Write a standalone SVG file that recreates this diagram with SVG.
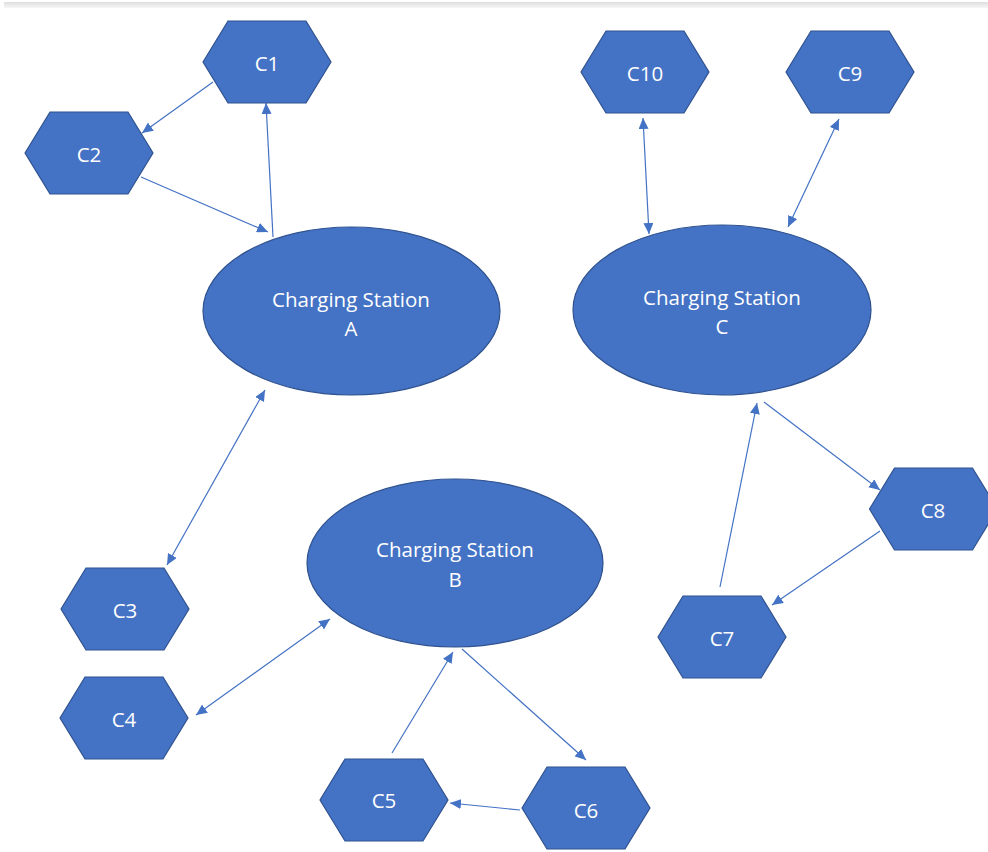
<svg xmlns="http://www.w3.org/2000/svg" xmlns:xlink="http://www.w3.org/1999/xlink" width="988" height="852" viewBox="0 0 988 852">
  <defs>
    <linearGradient id="bar" x1="0" y1="0" x2="0" y2="1">
      <stop offset="0" stop-color="#dedede"/>
      <stop offset="1" stop-color="#f6f6f6"/>
    </linearGradient>
    <polygon id="hex" points="-64,0 -39,-41 39,-41 64,0 39,41 -39,41"/>
    <marker id="arr" markerUnits="userSpaceOnUse" markerWidth="12" markerHeight="10" refX="11" refY="5" orient="auto-start-reverse" viewBox="0 0 12 10">
      <path d="M0,0 L11,5 L0,10 z" fill="#4472C4"/>
    </marker>
    <style>
      .shape { fill: #4472C4; stroke: #2F528F; stroke-width: 1.2; }
      .lbl { font-family: "Open Sans", "Noto Sans", "Liberation Sans", sans-serif; font-size: 20.5px; fill: #ffffff; text-anchor: middle; }
      .conn line { stroke: #4472C4; stroke-width: 1.2; fill: none; }
      .one { marker-end: url(#arr); }
      .two { marker-start: url(#arr); marker-end: url(#arr); }
    </style>
  </defs>
  <rect x="0" y="0" width="988" height="852" fill="#ffffff"/>
  <rect x="4" y="2" width="984" height="6" fill="url(#bar)"/>

  <g id="connectors" class="conn">
    <line class="one" x1="213" y1="82" x2="142" y2="133"/>
    <line class="one" x1="141" y1="177" x2="268" y2="232"/>
    <line class="one" x1="273" y1="237" x2="266" y2="103"/>
    <line class="two" x1="643" y1="118" x2="649" y2="234"/>
    <line class="two" x1="839" y1="119" x2="788" y2="227"/>
    <line class="one" x1="720" y1="587" x2="757" y2="403"/>
    <line class="one" x1="764" y1="402" x2="880" y2="490"/>
    <line class="one" x1="880" y1="531" x2="772" y2="605"/>
    <line class="two" x1="265" y1="390" x2="167" y2="565"/>
    <line class="two" x1="330" y1="619" x2="196" y2="715"/>
    <line class="one" x1="392" y1="753" x2="453" y2="652"/>
    <line class="one" x1="462" y1="649" x2="586" y2="760"/>
    <line class="one" x1="520" y1="810" x2="450" y2="803"/>
  </g>

  <g id="station-a">
    <ellipse class="shape" cx="351.5" cy="311" rx="148.5" ry="84"/>
    <text class="lbl" x="351" y="307">Charging Station</text>
    <text class="lbl" x="351" y="336">A</text>
  </g>
  <g id="station-b">
    <ellipse class="shape" cx="455" cy="563" rx="148" ry="84"/>
    <text class="lbl" x="455" y="557">Charging Station</text>
    <text class="lbl" x="455" y="587">B</text>
  </g>
  <g id="station-c">
    <ellipse class="shape" cx="722" cy="310" rx="149" ry="85"/>
    <text class="lbl" x="722" y="305">Charging Station</text>
    <text class="lbl" x="722" y="334">C</text>
  </g>

  <g id="c1"><use href="#hex" class="shape" x="267" y="62"/><text class="lbl" x="267" y="71">C1</text></g>
  <g id="c2"><use href="#hex" class="shape" x="89" y="153"/><text class="lbl" x="89" y="162">C2</text></g>
  <g id="c3"><use href="#hex" class="shape" x="125" y="609"/><text class="lbl" x="125" y="618">C3</text></g>
  <g id="c4"><use href="#hex" class="shape" x="124" y="718"/><text class="lbl" x="124" y="727">C4</text></g>
  <g id="c5"><use href="#hex" class="shape" x="384" y="800"/><text class="lbl" x="384" y="808">C5</text></g>
  <g id="c6"><use href="#hex" class="shape" x="586" y="808"/><text class="lbl" x="586" y="818">C6</text></g>
  <g id="c7"><use href="#hex" class="shape" x="722" y="637"/><text class="lbl" x="722" y="646">C7</text></g>
  <g id="c8"><use href="#hex" class="shape" x="933.5" y="509"/><text class="lbl" x="933" y="518">C8</text></g>
  <g id="c9"><use href="#hex" class="shape" x="850" y="72"/><text class="lbl" x="850" y="81">C9</text></g>
  <g id="c10"><use href="#hex" class="shape" x="645" y="72"/><text class="lbl" x="645" y="81">C10</text></g>
</svg>
